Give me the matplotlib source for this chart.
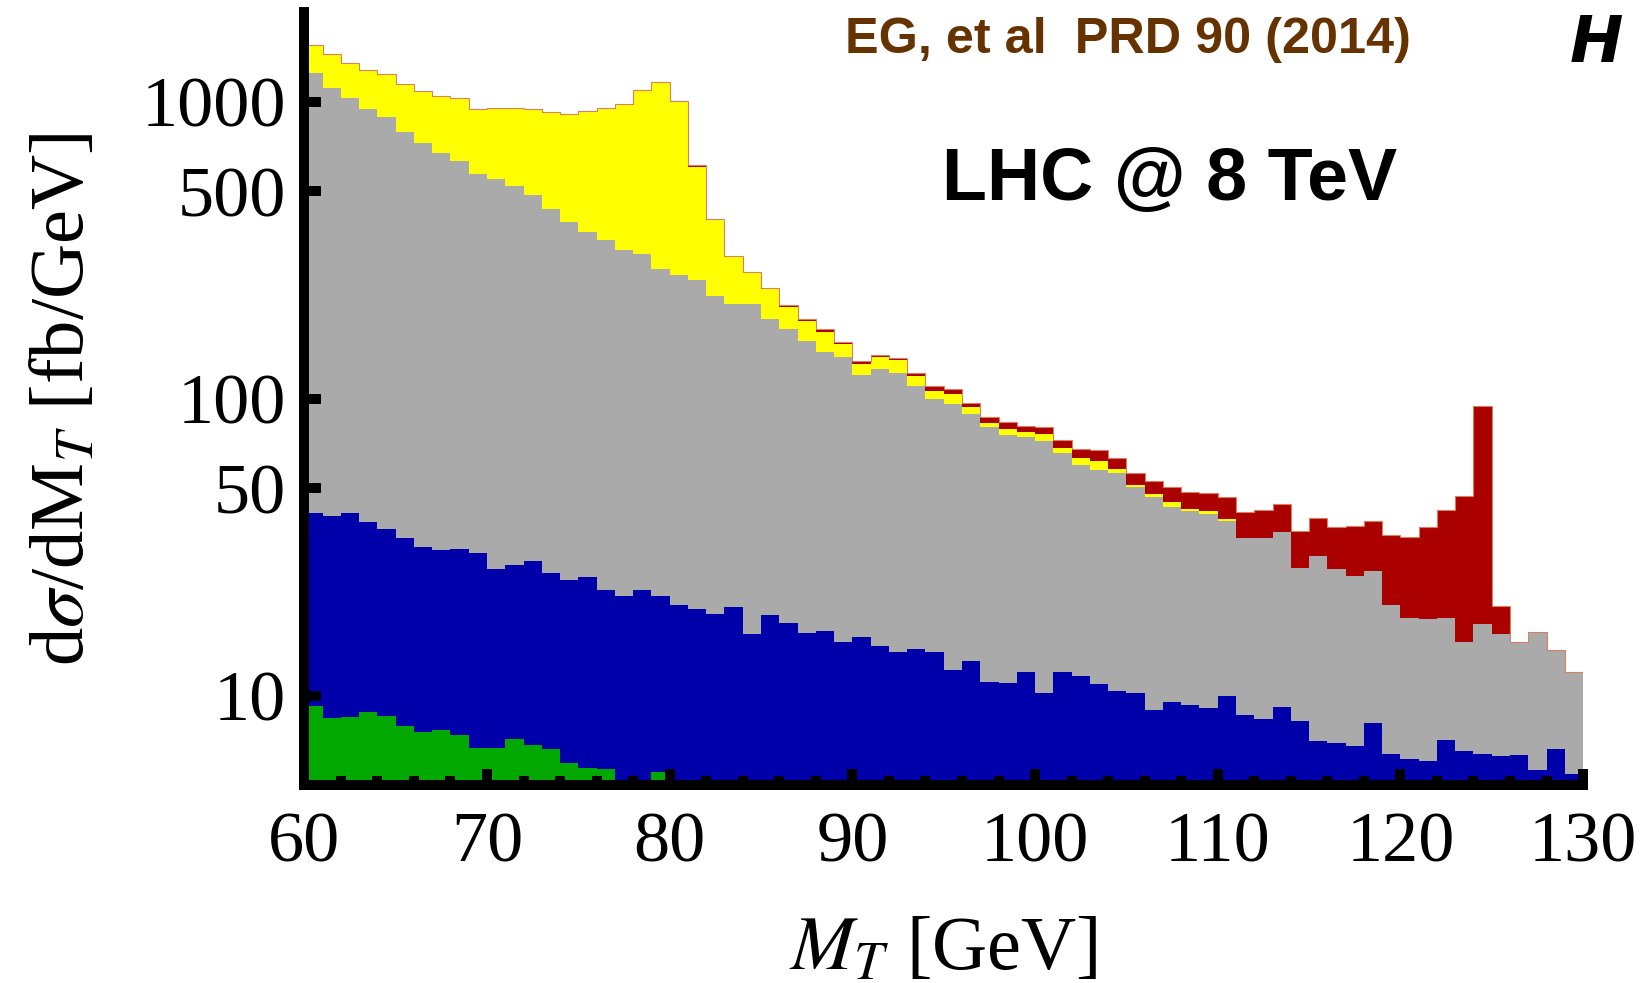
import numpy as np
import matplotlib
matplotlib.use("Agg")
import matplotlib.pyplot as plt
from matplotlib.ticker import FixedLocator, FixedFormatter, MultipleLocator, NullLocator

plt.rcParams["font.family"] = ["Liberation Serif", "DejaVu Serif"]
plt.rcParams["mathtext.fontset"] = "stix"

# 1 GeV bins in M_T, starting at 60 GeV
mt_start = 60

# upper edge of each stacked band [fb/GeV], one value per bin (60..129)
red_top = [1552, 1444, 1347, 1279, 1237, 1147, 1086, 1045, 1031, 945,
           954, 952, 943, 925, 909, 930, 954, 982, 1095, 1168,
           1005, 612, 403, 303, 268, 236, 206, 185, 171, 155,
           134, 140, 137, 122, 110, 108, 96.9, 86.6, 83.3, 81.1,
           80.1, 72.8, 67.7, 66.9, 62.9, 56.1, 53.0, 50.5, 48.6, 48.1,
           46.8, 41.4, 42.2, 44.2, 35.7, 39.6, 36.9, 37.3, 38.8, 34.7,
           34.2, 37.1, 42.1, 47.0, 94.3, 20.0, 15.2, 16.4, 14.2, 12.0]

yellow_top = [1552, 1444, 1347, 1279, 1237, 1147, 1086, 1045, 1031, 945,
              954, 952, 943, 925, 909, 930, 954, 982, 1095, 1168,
              1005, 605, 399, 301, 266, 234, 204, 183, 168, 153,
              131, 138, 135, 119, 106, 104, 93.8, 83.0, 79.1, 77.1,
              76.0, 68.2, 62.9, 61.8, 57.8, 51.2, 47.8, 44.8, 42.4, 41.9,
              39.4, 33.9, 34.0, 35.5, 26.8, 29.5, 26.7, 25.3, 26.2, 20.2,
              18.2, 18.1, 18.2, 15.2, 17.4, 16.1, 15.2, 16.4, 14.2, 12.0]

gray_top = [1252, 1110, 1031, 947, 886, 793, 724, 673, 633, 571,
            548, 521, 485, 435, 393, 364, 342, 317, 306, 273,
            261, 250, 222, 208, 208, 186, 172, 156, 144, 138,
            120, 126, 122, 110, 99.5, 95.7, 88.8, 80.5, 75.5, 74.5,
            72.0, 65.7, 59.7, 57.5, 56.1, 50.3, 46.6, 43.0, 42.0, 40.8,
            38.7, 33.9, 34.0, 35.5, 26.8, 29.5, 26.7, 25.3, 26.2, 20.2,
            18.2, 18.1, 18.2, 15.2, 17.4, 16.1, 15.2, 16.4, 14.2, 12.0]

blue_top = [41.3, 40.1, 41.3, 38.4, 36.5, 34.0, 31.6, 30.9, 31.2, 30.2,
            26.6, 27.5, 28.3, 25.8, 24.5, 25.1, 22.6, 21.7, 22.6, 21.7,
            20.2, 19.5, 18.8, 19.9, 16.1, 18.7, 17.6, 16.3, 16.5, 15.1,
            15.7, 14.7, 14.0, 14.4, 14.0, 12.2, 13.1, 11.1, 11.0, 12.0,
            10.2, 12.0, 11.6, 10.9, 10.4, 10.2, 8.95, 9.55, 9.31, 9.11,
            10.0, 8.59, 8.35, 9.16, 8.22, 7.04, 6.95, 6.77, 8.11, 6.35,
            6.11, 6.00, 7.09, 6.50, 6.38, 6.28, 6.30, 5.61, 6.60, 5.44]

# green band only shows below 80 GeV
green_top = [9.23, 8.39, 8.50, 8.79, 8.56, 7.93, 7.56, 7.66, 7.37, 6.68,
             6.68, 7.15, 6.81, 6.61, 5.95, 5.72, 5.65, 0, 0, 5.55]

xticks = [60, 70, 80, 90, 100, 110, 120, 130]
yticks = [10, 50, 100, 500, 1000]
ytick_labels = ["10", "50", "100", "500", "1000"]

colors = {
    "red": "#aa0000",
    "yellow": "#ffff00",
    "gray": "#aaaaaa",
    "blue": "#0000aa",
    "green": "#00a800",
}

W, H = 1642, 983
fig = plt.figure(figsize=(W / 100, H / 100), dpi=100)
ax = fig.add_axes([304.3 / W, 1 - 785 / H, (1583.1 - 304.3) / W, (785 - 12.3) / H])

base = 1.0  # below the visible range, so empty bins draw nothing
bands = [(red_top, "red"), (yellow_top, "yellow"), (gray_top, "gray"),
         (blue_top, "blue"), (green_top, "green")]
for vals, name in bands:
    vals = np.asarray(vals, dtype=float)
    edges = mt_start + np.arange(len(vals) + 1)
    ax.stairs(np.where(vals > 0, vals, base), edges, baseline=base,
              fill=True, color=colors[name], lw=0)

# faint outline along the top of the stack
red_edges = mt_start + np.arange(len(red_top) + 1)
ax.stairs(red_top, red_edges, baseline=None, color="#d88060", lw=0.8)

ax.set_yscale("log")
ax.set_xlim(60, 130)
ax.set_ylim(5, 2000)

for side in ("top", "right"):
    ax.spines[side].set_visible(False)
for side in ("left", "bottom"):
    ax.spines[side].set_linewidth(7.2)
    ax.spines[side].set_capstyle("projecting")

ax.xaxis.set_major_locator(FixedLocator(xticks))
ax.xaxis.set_minor_locator(MultipleLocator(2))
ax.yaxis.set_major_locator(FixedLocator(yticks))
ax.yaxis.set_major_formatter(FixedFormatter(ytick_labels))
ax.yaxis.set_minor_locator(NullLocator())

ax.tick_params(axis="x", which="major", direction="in", length=11.5, width=7.2,
               pad=19, labelsize=52)
ax.tick_params(axis="x", which="minor", direction="in", length=6.5, width=7.2)
ax.tick_params(axis="y", which="major", direction="in", length=12, width=7.2,
               pad=13, labelsize=52)

fig.text(65 / W, 1 - 399 / H, r"d$\sigma$/dM$_T$ [fb/GeV]", rotation=90,
         ha="center", va="center", fontsize=55)
fig.text(943 / W, 1 - 951 / H, r"$M_T$ [GeV]", ha="center", va="center", fontsize=55)

fig.text(1170 / W, 1 - 200 / H, "LHC @ 8 TeV", family="Liberation Sans",
         weight="bold", fontsize=53, ha="center", va="baseline")
fig.text(845 / W, 1 - 52.7 / H, "EG, et al  PRD 90 (2014)", family="Liberation Sans",
         weight="bold", fontsize=36.3, color="#663300", ha="left", va="baseline")
fig.text(1596 / W, 1 - 62 / H, "H", family="DejaVu Sans", weight="bold",
         style="italic", fontsize=46, ha="center", va="baseline")

fig.savefig("out.png", dpi=100)
